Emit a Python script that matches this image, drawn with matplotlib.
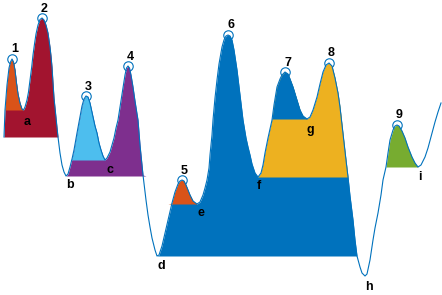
import numpy as np
import matplotlib
matplotlib.use("Agg")
import matplotlib.pyplot as plt

# Curve (pixel coordinates, y grows downward)
curve_x = [4, 5, 7, 9, 10.5, 12, 13.5, 15, 16.5, 18, 20, 22, 23.5, 25, 27, 28.5, 30, 31.7, 33, 34.5,
           36, 38, 40, 42, 44, 46, 48, 50, 51, 52, 53, 54, 55, 56, 57, 58, 59, 60, 62, 64,
           66, 68, 70, 72, 74, 77, 80, 82, 84, 86, 88, 90, 93, 95, 97, 99, 101, 103, 105, 107,
           110, 112, 114, 116, 118, 120, 123, 125, 126.5, 128, 129.5, 131, 133, 135, 137, 138, 140, 143, 146, 148,
           150, 152, 155, 157, 159, 162, 165, 168, 172, 175, 178, 180, 182, 184, 186, 188, 190, 193, 197, 200,
           203, 205, 207, 209, 210, 212, 213, 215, 217, 219, 222, 224, 226, 228, 230, 232, 234, 235.5, 237, 240,
           243, 246, 248, 250, 252, 255, 258, 261, 263, 265, 268, 272, 274, 277, 280, 282, 285, 288, 290, 293,
           296, 300, 303, 307, 310, 313, 317, 320, 323, 326, 329, 332, 335, 338, 340, 342, 344, 346, 348, 350,
           353, 355, 357, 360, 362, 365, 367, 370, 373, 375, 378, 381, 383, 386, 388, 390, 393, 395, 397, 399,
           402, 405, 408, 412, 415, 418, 421, 425, 428, 432, 435, 438, 441]
curve_y = [137, 110, 85, 68, 62, 59, 62, 70, 83, 94, 103, 109, 110, 107, 100, 92, 80, 67, 55, 44,
           34, 25, 19.5, 18, 20, 25, 33, 47, 56, 67, 83, 98, 108, 118, 128, 137, 145, 153, 165, 172,
           176, 174, 167, 159, 150, 133, 117, 106, 99, 96, 97, 103, 117, 126, 133, 143, 150, 156, 160, 158,
           152, 145, 138, 128, 120, 107, 87, 75, 68, 66, 68, 75, 87, 101, 114, 120, 145, 175, 200, 215,
           227, 238, 250, 256, 255, 246, 233, 220, 203, 192, 184, 181, 180, 181, 185, 190, 195, 201, 204, 202,
           195, 188, 180, 168, 155, 135, 120, 98, 80, 64, 47, 40, 36, 35, 36, 40, 50, 60, 70, 95,
           120, 138, 147, 155, 164, 173, 177, 173, 165, 153, 138, 120, 105, 87, 79, 75, 72, 74, 79, 87,
           97, 110, 116, 119, 117, 110, 97, 84, 72, 65, 63, 66, 78, 93, 107, 125, 143, 160, 177, 196,
           220, 240, 256, 267, 273, 276, 274, 260, 240, 228, 213, 195, 180, 167, 153, 140, 130, 126, 125, 126,
           131, 138, 147, 157, 163, 167, 165, 157, 148, 133, 122, 112, 103]

peak_labels = ["1", "2", "3", "4", "5", "6", "7", "8", "9"]
peak_x = [12, 42, 86, 128, 182, 228, 285, 329, 397]
# reference level (prominence base) of each peak
peak_base = [110, 137, 160, 176, 204, 256, 119, 177, 167]
peak_colors = ["#D95319", "#A2142F", "#4DBEEE", "#7E2F8E", "#D95319",
               "#0072BD", "#0072BD", "#EDB120", "#77AC30"]
draw_order = [1, 0, 3, 2, 5, 4, 7, 6, 8]

valley_labels = ["a", "b", "c", "d", "e", "f", "g", "h", "i"]
valley_x = [27, 70, 110, 161, 201, 259, 310, 369, 420]
valley_y = [122, 185, 170, 266, 213, 186, 130, 287, 177]

x = np.array(curve_x, float)
y = np.array(curve_y, float)

fig = plt.figure(figsize=(4.42, 2.95), dpi=100)
ax = fig.add_axes([0, 0, 1, 1])
ax.set_xlim(0, 442)
ax.set_ylim(295, 0)
ax.axis("off")

blue = "#0072BD"
for k in draw_order:
    pi = int(np.argmin(np.abs(x - peak_x[k])))
    lvl = peak_base[k]
    i0 = pi
    while i0 > 0 and y[i0] < lvl:
        i0 -= 1
    i1 = pi
    while i1 < len(x) - 1 and y[i1] < lvl:
        i1 += 1
    xs = x[i0:i1 + 1]
    ys = np.minimum(y[i0:i1 + 1], lvl)
    ax.fill_between(xs, ys, lvl, color=peak_colors[k], lw=0, zorder=2 + draw_order.index(k) * 0.01)

# peak markers
for k, px in enumerate(peak_x):
    pi = int(np.argmin(np.abs(x - px)))
    ax.plot(x[pi], y[pi], "o", ms=6.8, mfc="none", mec=blue, mew=0.8, zorder=1.5)
    ax.text(x[pi] + 2.5, y[pi] - 3.5, peak_labels[k], ha="center", va="bottom",
            fontsize=9, fontweight="bold", family="Liberation Sans", zorder=5)

ax.plot(x, y, color=blue, lw=0.8, zorder=3)

for lab, vx, vy in zip(valley_labels, valley_x, valley_y):
    ax.text(vx, vy, lab, ha="center", va="center", fontsize=9, fontweight="bold",
            family="Liberation Sans", zorder=5)

fig.savefig("out.png", dpi=100)
